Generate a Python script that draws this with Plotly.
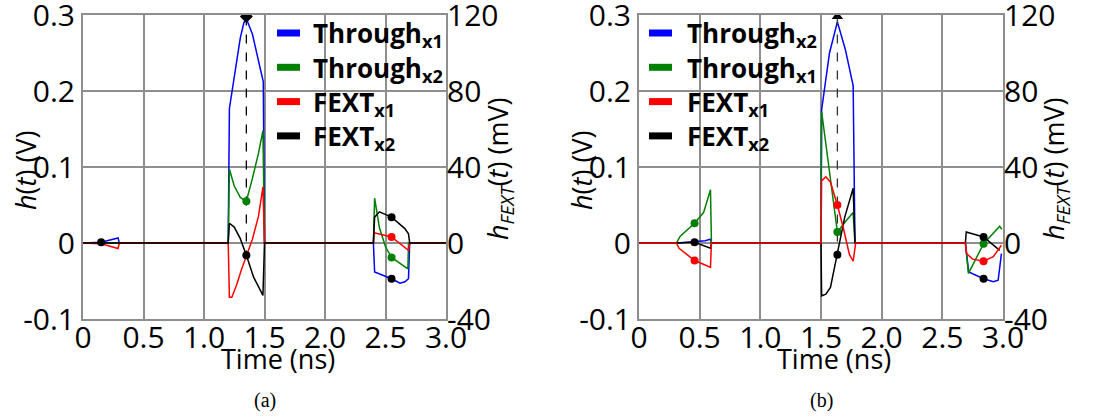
import plotly.graph_objects as go

# ---------------- (a) data ----------------
a_thr1_t = [0, 0.15, 0.29, 0.30, 1.20, 1.21, 1.30, 1.33, 1.35, 1.40, 1.49, 1.50, 2.40, 2.41, 2.55, 2.62, 2.66, 2.69, 2.70, 3.0]
a_thr1_v = [0, 0.001, 0.0067, 0, 0, 0.177, 0.27, 0.29, 0.295, 0.275, 0.212, 0, 0, -0.038, -0.047, -0.053, -0.051, -0.047, 0, 0]

a_thr2_t = [0, 1.20, 1.21, 1.25, 1.30, 1.35, 1.40, 1.45, 1.487, 1.50, 2.40, 2.41, 2.45, 2.50, 2.55, 2.62, 2.685, 2.69, 3.0]
a_thr2_v = [0, 0, 0.097, 0.075, 0.06, 0.055, 0.085, 0.118, 0.148, 0, 0, 0.059, 0.02, -0.005, -0.019, -0.027, -0.034, 0, 0]

a_fx1_t = [0, 0.15, 0.29, 0.30, 1.20, 1.21, 1.23, 1.27, 1.31, 1.35, 1.40, 1.45, 1.487, 1.50, 2.40, 2.405, 2.55, 2.69, 2.70, 3.0]
a_fx1_mv = [0, -0.4, -2.9, 0, 0, -28.5, -28.5, -22, -14, -6.5, 2, 14, 29.5, 0, 0, 5.4, 3.2, -3.9, 0, 0]

a_fx2_t = [0, 1.20, 1.21, 1.25, 1.30, 1.35, 1.41, 1.45, 1.487, 1.50, 2.40, 2.41, 2.45, 2.55, 2.66, 2.69, 2.70, 3.0]
a_fx2_mv = [0, 0, 10.4, 8.4, 2.3, -6.4, -18, -23, -27.6, 0, 0, 13.6, 16.4, 13.6, 7.6, 4.8, 0, 0]

a_dot_thr1_t, a_dot_thr1_v = [2.55], [-0.047]
a_dot_thr2_t, a_dot_thr2_v = [1.35, 2.55], [0.055, -0.019]
a_dot_fx1_t, a_dot_fx1_mv = [2.55], [3.2]
a_dot_fx2_t, a_dot_fx2_mv = [0.15, 1.35, 2.55], [0.4, -6.4, 13.6]
a_peak_t, a_peak_v = [1.35], [0.298]
a_dash_t, a_dash_v = [1.35, 1.35], [0.298, -0.016]

# ---------------- (b) data ----------------
b_thr2_t = [0, 0.31, 0.45, 0.545, 0.589, 0.597, 1.50, 1.505, 1.57, 1.635, 1.70, 1.765, 1.78, 2.69, 2.717, 2.84, 2.92, 2.96, 2.987]
b_thr2_v = [0, 0, 0.0015, 0.003, 0.005, 0, 0, 0.175, 0.25, 0.291, 0.255, 0.207, 0, 0, -0.038, -0.047, -0.051, -0.049, -0.014]

b_thr1_t = [0, 0.308, 0.34, 0.413, 0.458, 0.532, 0.589, 0.597, 1.50, 1.505, 1.578, 1.635, 1.70, 1.765, 1.78, 2.69, 2.715, 2.84, 2.973, 2.99]
b_thr1_v = [0, 0, 0.009, 0.020, 0.026, 0.040, 0.070, 0, 0, 0.173, 0.08, 0.0145, 0.028, 0.040, 0, 0, -0.040, -0.001, 0.022, 0.018]

b_fx1_t = [0, 0.308, 0.33, 0.413, 0.458, 0.545, 0.589, 0.597, 1.50, 1.505, 1.54, 1.578, 1.635, 1.682, 1.734, 1.765, 1.786, 2.69, 2.70, 2.75, 2.84, 2.92, 2.987]
b_fx1_mv = [0, 0, -2.8, -7.2, -9.2, -11.6, -12.8, 0, 0, 32.8, 34.8, 32, 20, 8.4, -6, -9.6, 0, 0, -5.6, -8.5, -9.6, -7.2, -1.2]

b_fx2_t = [0, 0.308, 0.458, 0.589, 0.597, 1.50, 1.505, 1.54, 1.578, 1.635, 1.695, 1.765, 1.78, 2.69, 2.697, 2.84, 2.973]
b_fx2_mv = [0, 0, 0.4, -2.8, 0, 0, -27.8, -26.9, -23.4, -6.2, 13.5, 28.8, 0, 0, 5.8, 3.2, -3.9]

b_dot_thr2_t, b_dot_thr2_v = [2.84], [-0.047]
b_dot_thr1_t, b_dot_thr1_v = [0.458, 1.635, 2.84], [0.026, 0.0145, -0.001]
b_dot_fx1_t, b_dot_fx1_mv = [0.458, 1.635, 2.84], [-9.2, 20, -9.6]
b_dot_fx2_t, b_dot_fx2_mv = [0.458, 1.635, 2.84], [0.4, -6.2, 3.2]
b_peak_t, b_peak_v = [1.635], [0.298]
b_dash_t, b_dash_v = [1.635, 1.635], [0.298, -0.0155]

# ---------------- axes / labels ----------------
x_ticks = [0, 0.5, 1.0, 1.5, 2.0, 2.5, 3.0]
x_ticktext = ["0", "0.5", "1.0", "1.5", "2.0", "2.5", "3.0"]
yl_ticks = [-0.1, 0, 0.1, 0.2, 0.3]
yl_ticktext = ["-0.1", "0", "0.1", "0.2", "0.3"]
yr_ticks = [-40, 0, 40, 80, 120]
yr_ticktext = ["-40", "0", "40", "80", "120"]

legend_a_base = ["Through", "Through", "FEXT", "FEXT"]
legend_a_sub = ["x1", "x2", "x1", "x2"]
legend_b_base = ["Through", "Through", "FEXT", "FEXT"]
legend_b_sub = ["x2", "x1", "x1", "x2"]
legend_colors = ["#0000ff", "#008000", "#ff0000", "#000000"]

BLUE, GREEN, RED, BLACK = "#0000ff", "#008000", "#ff0000", "#000000"
GRID = "#8e8e8e"
FONT = "Open Sans"
LW = 1.5

fig = go.Figure()


def line(x, y, color, xa, ya):
    fig.add_trace(go.Scatter(x=x, y=y, mode="lines", line=dict(color=color, width=LW),
                             xaxis=xa, yaxis=ya, showlegend=False, hoverinfo="skip"))


def dots(x, y, color, xa, ya, symbol="circle", size=8):
    fig.add_trace(go.Scatter(x=x, y=y, mode="markers", marker=dict(color=color, size=size, symbol=symbol),
                             xaxis=xa, yaxis=ya, showlegend=False, hoverinfo="skip"))


# (a) traces: blue, green, red, black (black on top)
line(a_thr1_t, a_thr1_v, BLUE, "x", "y")
line(a_thr2_t, a_thr2_v, GREEN, "x", "y")
line(a_fx1_t, a_fx1_mv, RED, "x", "y2")
line(a_fx2_t, a_fx2_mv, BLACK, "x", "y2")
fig.add_trace(go.Scatter(x=a_dash_t, y=a_dash_v, mode="lines", line=dict(color=BLACK, width=1.3, dash="dash"),
                         xaxis="x", yaxis="y", showlegend=False, hoverinfo="skip"))
dots(a_dot_thr1_t, a_dot_thr1_v, BLACK, "x", "y")
dots(a_dot_thr2_t, a_dot_thr2_v, GREEN, "x", "y")
dots(a_dot_fx1_t, a_dot_fx1_mv, RED, "x", "y2")
dots(a_dot_fx2_t, a_dot_fx2_mv, BLACK, "x", "y2")
dots(a_peak_t, a_peak_v, BLACK, "x", "y", symbol="diamond", size=10)

# (b) traces: blue, green, black, red (red on top)
line(b_thr2_t, b_thr2_v, BLUE, "x2", "y3")
line(b_thr1_t, b_thr1_v, GREEN, "x2", "y3")
line(b_fx2_t, b_fx2_mv, BLACK, "x2", "y4")
line(b_fx1_t, b_fx1_mv, RED, "x2", "y4")
fig.add_trace(go.Scatter(x=b_dash_t, y=b_dash_v, mode="lines", line=dict(color="#333333", width=1.3, dash="dash"),
                         xaxis="x2", yaxis="y3", showlegend=False, hoverinfo="skip"))
dots(b_dot_thr2_t, b_dot_thr2_v, BLACK, "x2", "y3")
dots(b_dot_thr1_t, b_dot_thr1_v, GREEN, "x2", "y3")
dots(b_dot_fx1_t, b_dot_fx1_mv, RED, "x2", "y4")
dots(b_dot_fx2_t, b_dot_fx2_mv, BLACK, "x2", "y4")
dots(b_peak_t, b_peak_v, BLACK, "x2", "y3", symbol="triangle-up", size=10)

W, H = 1106, 419
xa_dom = [83 / W, 446 / W]
xb_dom = [639 / W, 1003 / W]
y_dom = [(H - 319) / H, (H - 15) / H]

tickfont = dict(family=FONT, size=30, color="black")
common_x = dict(range=[0, 3], tickvals=x_ticks, ticktext=x_ticktext, showgrid=True, gridcolor=GRID, gridwidth=2,
                showline=True, linecolor=GRID, linewidth=2, mirror=True, ticks="", zeroline=False,
                tickfont=tickfont, fixedrange=True, ticklabeloverflow="allow", automargin=False,
                ticklabelstandoff=-9)
common_yl = dict(range=[-0.1, 0.3], tickvals=yl_ticks, ticktext=yl_ticktext, showgrid=True, gridcolor=GRID,
                 gridwidth=2, showline=True, linecolor=GRID, linewidth=2, mirror=True, ticks="", zeroline=False,
                 tickfont=tickfont, domain=y_dom, ticklabeloverflow="allow", automargin=False)
common_yr = dict(range=[-40, 120], tickvals=yr_ticks, ticktext=yr_ticktext, showgrid=False, side="right",
                 showline=False, ticks="", zeroline=False, tickfont=tickfont, ticklabeloverflow="allow",
                 automargin=False)

fig.update_layout(
    width=W, height=H, margin=dict(l=0, r=0, t=0, b=0),
    paper_bgcolor="white", plot_bgcolor="white",
    xaxis=dict(domain=xa_dom, anchor="y", **common_x),
    yaxis=dict(anchor="x", **common_yl),
    yaxis2=dict(anchor="x", overlaying="y", **common_yr),
    xaxis2=dict(domain=xb_dom, anchor="y3", **common_x),
    yaxis3=dict(anchor="x2", **common_yl),
    yaxis4=dict(anchor="x2", overlaying="y3", **common_yr),
    showlegend=False,
)


def px(x):
    return x / W


def py(y):
    return (H - y) / H


shapes = []
annotations = []

# hand-built legends (white boxes over the grid, thick swatches, bold labels with subscripts)
leg_font = dict(family=FONT, size=26, color="black")
for (wide_x1, narrow_x1, box_x0, sw_x0, sw_x1, tx, bases, subs) in [
    (446, 408, 271, 277, 300, 311, legend_a_base, legend_a_sub),
    (811, 779, 640, 649, 672, 685, legend_b_base, legend_b_sub),
]:
    shapes.append(dict(type="rect", xref="paper", yref="paper", x0=px(box_x0), x1=px(wide_x1),
                       y0=py(86), y1=py(16), fillcolor="white", line=dict(width=0), layer="between"))
    shapes.append(dict(type="rect", xref="paper", yref="paper", x0=px(box_x0), x1=px(narrow_x1),
                       y0=py(157), y1=py(86), fillcolor="white", line=dict(width=0), layer="between"))
    for i, (base, sub, col) in enumerate(zip(bases, subs, legend_colors)):
        ry = 33 + 34.3 * i
        shapes.append(dict(type="line", xref="paper", yref="paper", x0=px(sw_x0), x1=px(sw_x1),
                           y0=py(ry), y1=py(ry), line=dict(color=col, width=7), layer="above"))
        annotations.append(dict(text="<b>" + base + "<sub>" + sub + "</sub></b>", x=px(tx), y=py(ry + 1.5),
                                xref="paper", yref="paper", showarrow=False, font=leg_font,
                                xanchor="left", yanchor="middle"))

ann_font = dict(family=FONT, size=27, color="black")
for off, cap in [(0, "(a)"), (556, "(b)")]:
    annotations += [
        dict(text="Time (ns)", x=px(off + 278), y=py(358), xref="paper", yref="paper",
             showarrow=False, font=ann_font, xanchor="center", yanchor="middle"),
        dict(text="<i>h</i>(<i>t</i>) (V)", x=px(off + 25), y=py(171), xref="paper", yref="paper",
             showarrow=False, font=ann_font, textangle=-90, xanchor="center", yanchor="middle"),
        dict(text="<i>h</i><sub><i>FEXT</i></sub>(<i>t</i>) (mV)", x=px(off + 499), y=py(169),
             xref="paper", yref="paper", showarrow=False, font=ann_font, textangle=-90,
             xanchor="center", yanchor="middle"),
        dict(text=cap, x=px(off + 265), y=py(400), xref="paper", yref="paper", showarrow=False,
             font=dict(family="Liberation Serif", size=20, color="black"), xanchor="center", yanchor="middle"),
    ]
fig.update_layout(shapes=shapes, annotations=annotations)

fig.write_html("out.html")
